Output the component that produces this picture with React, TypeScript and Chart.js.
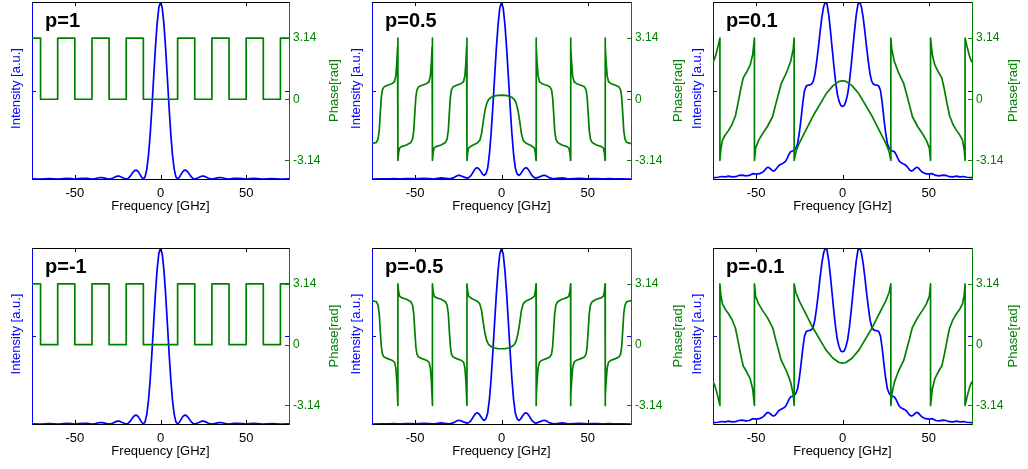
import React, { useEffect, useRef } from 'react';
import { Chart, registerables } from 'chart.js';

Chart.register(...registerables);

// ---------------- data ----------------
const PANEL_LABELS = ['p=1', 'p=0.5', 'p=0.1', 'p=-1', 'p=-0.5', 'p=-0.1'];
const X_TITLE = 'Frequency [GHz]';
const INTENSITY_TITLE = 'Intensity [a.u.]';
const PHASE_TITLE = 'Phase[rad]';
const X_TICKS = [-50, 0, 50];
const X_TICK_LABELS = ['-50', '0', '50'];
const PHASE_TICKS = [-3.14, 0, 3.14];
const PHASE_TICK_LABELS = ['-3.14', '0', '3.14'];
const INTENSITY_TICKS = [0.5];

// intensity spectra, p = ±1 and p = ±0.5 (same frequency grid)
const freqSinc = [
  -75, -70, -65, -62, -60, -58, -55, -52, -50, -48, -45, -42, -40, -38, -36, -35, -34, -32, -30, -28, -26, -25,
  -24, -22, -20, -19, -18, -17, -16, -15, -14, -13, -12, -11, -10, -9, -8, -7, -6, -5, -4, -3, -2, -1,
  0,
  1, 2, 3, 4, 5, 6, 7, 8, 9, 10, 11, 12, 13, 14, 15, 16, 17, 18, 19, 20, 22, 24, 25, 26, 28, 30, 32, 34, 35, 36,
  38, 40, 42, 45, 48, 50, 52, 55, 58, 60, 62, 65, 70, 75,
];
const intensityP1 = [
  0.001, 0, 0.002, 0.001, 0, 0.001, 0.003, 0.002, 0, 0.002, 0.004, 0.003, 0, 0.0024, 0.0071, 0.0083, 0.0079, 0.0034,
  0, 0.0045, 0.0136, 0.0165, 0.016, 0.0072, 0, 0.003, 0.012, 0.025, 0.039, 0.049, 0.05, 0.042, 0.026, 0.009, 0,
  0.012, 0.055, 0.135, 0.255, 0.405, 0.573, 0.737, 0.875, 0.967,
  1,
  0.967, 0.875, 0.737, 0.573, 0.405, 0.255, 0.135, 0.055, 0.012, 0, 0.009, 0.026, 0.042, 0.05, 0.049, 0.039, 0.025,
  0.012, 0.003, 0, 0.0072, 0.016, 0.0165, 0.0136, 0.0045, 0, 0.0034, 0.0079, 0.0083, 0.0071, 0.0024, 0, 0.003,
  0.004, 0.002, 0, 0.002, 0.003, 0.001, 0, 0.001, 0.002, 0, 0.001,
];
const intensityP05 = [
  0, 0.001, 0.001, 0.002, 0.001, 0.001, 0.002, 0.002, 0.001, 0.002, 0.003, 0.002, 0.001, 0.002, 0.005, 0.006, 0.005,
  0.003, 0.001, 0.006, 0.017, 0.021, 0.02, 0.012, 0.005, 0.008, 0.016, 0.03, 0.046, 0.06, 0.064, 0.057, 0.043, 0.028,
  0.02, 0.03, 0.062, 0.14, 0.26, 0.41, 0.575, 0.735, 0.87, 0.965,
  1,
  0.965, 0.87, 0.735, 0.575, 0.41, 0.26, 0.14, 0.062, 0.03, 0.02, 0.028, 0.043, 0.057, 0.064, 0.06, 0.046, 0.03,
  0.016, 0.008, 0.005, 0.012, 0.02, 0.021, 0.017, 0.006, 0.001, 0.003, 0.005, 0.006, 0.005, 0.002, 0.001, 0.002,
  0.003, 0.002, 0.001, 0.002, 0.002, 0.001, 0.001, 0.002, 0.001, 0.001, 0,
];

// intensity spectrum, p = ±0.1
const freqP01Int = [
  -75, -72, -70, -68, -66, -64, -62, -60, -58, -56, -54, -52, -50, -48, -47, -46, -45, -44, -43, -42, -41, -40, -39,
  -38, -37, -36, -35, -34, -33, -32, -31, -30, -29, -28, -27, -26, -25, -24, -23, -22, -21, -20, -19, -18, -17, -16,
  -15, -14, -13, -12, -11, -10, -9, -8, -7, -6, -5, -4, -3, -2, -1,
  0,
  1, 2, 3, 4, 5, 6, 7, 8, 9, 10, 11, 12, 13, 14, 15, 16, 17, 18, 19, 20, 21, 22, 23, 24, 25, 26, 27, 28, 29, 30, 31,
  32, 33, 34, 35, 36, 37, 38, 39, 40, 41, 42, 43, 44, 45, 46, 47, 48, 50, 52, 54, 56, 58, 60, 62, 64, 66, 68, 70, 72,
  75,
];
const intensityP01 = [
  0.008, 0.01, 0.014, 0.012, 0.016, 0.012, 0.013, 0.02, 0.022, 0.018, 0.02, 0.03, 0.028, 0.03, 0.035, 0.04, 0.05,
  0.062, 0.066, 0.06, 0.05, 0.045, 0.05, 0.062, 0.075, 0.082, 0.086, 0.092, 0.1, 0.118, 0.14, 0.155, 0.158, 0.162,
  0.175, 0.2, 0.26, 0.34, 0.43, 0.5, 0.525, 0.53, 0.532, 0.535, 0.55, 0.59, 0.66, 0.74, 0.83, 0.91, 0.97, 1.0, 0.99,
  0.93, 0.84, 0.74, 0.64, 0.55, 0.48, 0.44, 0.415,
  0.41,
  0.415, 0.44, 0.48, 0.55, 0.64, 0.74, 0.84, 0.93, 0.99, 1.0, 0.97, 0.91, 0.83, 0.74, 0.66, 0.59, 0.55, 0.535, 0.532,
  0.53, 0.525, 0.5, 0.43, 0.34, 0.26, 0.2, 0.175, 0.162, 0.158, 0.155, 0.14, 0.118, 0.1, 0.092, 0.086, 0.082, 0.075,
  0.062, 0.05, 0.045, 0.05, 0.06, 0.066, 0.062, 0.05, 0.04, 0.035, 0.03, 0.028, 0.03, 0.02, 0.018, 0.022, 0.02,
  0.013, 0.012, 0.016, 0.012, 0.014, 0.01, 0.008,
];

// phase, p = ±1 (square wave)
const freqSquare = [
  -75, -70, -70, -60, -60, -50, -50, -40, -40, -30, -30, -20, -20, -10, -10, 10, 10, 20, 20, 30, 30, 40, 40, 50, 50,
  60, 60, 70, 70, 75,
];
const phaseSquare = [
  3.14, 3.14, 0, 0, 3.14, 3.14, 0, 0, 3.14, 3.14, 0, 0, 3.14, 3.14, 0, 0, 3.14, 3.14, 0, 0, 3.14, 3.14, 0, 0, 3.14,
  3.14, 0, 0, 3.14, 3.14,
];

// phase, p = ±0.5
const freqPhaseP05 = [
  -75, -72.5, -71.5, -70.8, -70.2, -69.6, -69, -68, -66, -63.5, -62, -61.2, -60.6, -60.2, -60,
  -60, -59.6, -59, -57.5, -55, -52.5, -51.5, -50.8, -50.2, -49.6, -49, -48, -46, -43.5, -42, -41.2, -40.6, -40.2, -40,
  -40, -39.6, -39, -37.5, -35, -32.5, -31.5, -30.8, -30.2, -29.6, -29, -28, -26, -23.5, -22, -21.2, -20.6, -20.2, -20,
  -20, -19.6, -19, -17, -14, -12.5, -11.5, -10.5, -9.5, -8.5, -7.5, -6, -4, -2,
  0,
  2, 4, 6, 7.5, 8.5, 9.5, 10.5, 11.5, 12.5, 14, 17, 19, 19.6, 20,
  20, 20.2, 20.6, 21.2, 22, 23.5, 26, 28, 29, 29.6, 30.2, 30.8, 31.5, 32.5, 35, 37.5, 39, 39.6, 40,
  40, 40.2, 40.6, 41.2, 42, 43.5, 46, 48, 49, 49.6, 50.2, 50.8, 51.5, 52.5, 55, 57.5, 59, 59.6, 60,
  60, 60.2, 60.6, 61.2, 62, 63.5, 66, 68, 69, 69.6, 70.2, 70.8, 71.5, 72.5, 75,
];
const phaseP05 = [
  -2.28, -2.22, -2.05, -1.6, -0.7, 0.1, 0.48, 0.64, 0.72, 0.8, 0.9, 1.2, 1.9, 2.7, 3.14,
  -3.14, -2.75, -2.5, -2.42, -2.35, -2.22, -2.05, -1.6, -0.7, 0.1, 0.48, 0.64, 0.72, 0.8, 0.9, 1.2, 1.9, 2.7, 3.14,
  -3.14, -2.75, -2.5, -2.42, -2.35, -2.22, -2.05, -1.6, -0.7, 0.1, 0.48, 0.64, 0.72, 0.8, 0.9, 1.2, 1.9, 2.7, 3.14,
  -3.14, -2.75, -2.5, -2.38, -2.25, -2.1, -1.75, -1.1, -0.55, -0.2, -0.02, 0.1, 0.17, 0.2,
  0.21,
  0.2, 0.17, 0.1, -0.02, -0.2, -0.55, -1.1, -1.75, -2.1, -2.25, -2.38, -2.5, -2.75, -3.14,
  3.14, 2.7, 1.9, 1.2, 0.9, 0.8, 0.72, 0.64, 0.48, 0.1, -0.7, -1.6, -2.05, -2.22, -2.35, -2.42, -2.5, -2.75, -3.14,
  3.14, 2.7, 1.9, 1.2, 0.9, 0.8, 0.72, 0.64, 0.48, 0.1, -0.7, -1.6, -2.05, -2.22, -2.35, -2.42, -2.5, -2.75, -3.14,
  3.14, 2.7, 1.9, 1.2, 0.9, 0.8, 0.72, 0.64, 0.48, 0.1, -0.7, -1.6, -2.05, -2.22, -2.28,
];
const phaseM05 = [
  2.28, 2.22, 2.05, 1.6, 0.7, -0.1, -0.48, -0.64, -0.72, -0.8, -0.9, -1.2, -1.9, -2.7, -3.14,
  3.14, 2.75, 2.5, 2.42, 2.35, 2.22, 2.05, 1.6, 0.7, -0.1, -0.48, -0.64, -0.72, -0.8, -0.9, -1.2, -1.9, -2.7, -3.14,
  3.14, 2.75, 2.5, 2.42, 2.35, 2.22, 2.05, 1.6, 0.7, -0.1, -0.48, -0.64, -0.72, -0.8, -0.9, -1.2, -1.9, -2.7, -3.14,
  3.14, 2.75, 2.5, 2.38, 2.25, 2.1, 1.75, 1.1, 0.55, 0.2, 0.02, -0.1, -0.17, -0.2,
  -0.21,
  -0.2, -0.17, -0.1, 0.02, 0.2, 0.55, 1.1, 1.75, 2.1, 2.25, 2.38, 2.5, 2.75, 3.14,
  -3.14, -2.7, -1.9, -1.2, -0.9, -0.8, -0.72, -0.64, -0.48, -0.1, 0.7, 1.6, 2.05, 2.22, 2.35, 2.42, 2.5, 2.75, 3.14,
  -3.14, -2.7, -1.9, -1.2, -0.9, -0.8, -0.72, -0.64, -0.48, -0.1, 0.7, 1.6, 2.05, 2.22, 2.35, 2.42, 2.5, 2.75, 3.14,
  -3.14, -2.7, -1.9, -1.2, -0.9, -0.8, -0.72, -0.64, -0.48, -0.1, 0.7, 1.6, 2.05, 2.22, 2.28,
];

// phase, p = ±0.1
const freqPhaseP01 = [
  -75, -74, -73, -72, -71,
  -71, -70.5, -69.5, -68, -66, -64, -62, -60.5, -59, -57.5, -55.5, -53.5, -52, -51,
  -51, -50.3, -48.5, -46.5, -43.5, -40.5, -38.5, -37, -35.5, -32.5, -30, -28.5, -28,
  -28, -27, -25, -21, -17, -13, -9.5, -5.5, -2,
  0,
  2, 5.5, 9.5, 13, 17, 21, 25, 27, 28,
  28, 28.5, 30, 32.5, 35.5, 37, 38.5, 40.5, 43.5, 46.5, 48.5, 50.3, 51,
  51, 52, 53.5, 55.5, 57.5, 59, 60.5, 62, 64, 66, 68, 69.5, 70.5, 71,
  71, 72, 73, 74, 75,
];
const phaseP01 = [
  1.9, 2.1, 2.4, 2.75, 3.14,
  -3.14, -2.6, -2.1, -1.85, -1.6, -1.3, -0.85, -0.2, 0.5, 1.1, 1.4, 1.75, 2.3, 3.14,
  -3.14, -2.5, -2.1, -1.8, -1.4, -0.9, -0.2, 0.3, 0.8, 1.35, 1.95, 2.6, 3.14,
  -3.14, -2.7, -2.25, -1.55, -0.85, -0.25, 0.28, 0.7, 0.92,
  0.95,
  0.92, 0.7, 0.28, -0.25, -0.85, -1.55, -2.25, -2.7, -3.14,
  3.14, 2.6, 1.95, 1.35, 0.8, 0.3, -0.2, -0.9, -1.4, -1.8, -2.1, -2.5, -3.14,
  3.14, 2.3, 1.75, 1.4, 1.1, 0.5, -0.2, -0.85, -1.3, -1.6, -1.85, -2.1, -2.6, -3.14,
  3.14, 2.75, 2.4, 2.1, 1.9,
];
const phaseM01 = [
  -1.9, -2.1, -2.4, -2.75, -3.14,
  3.14, 2.6, 2.1, 1.85, 1.6, 1.3, 0.85, 0.2, -0.5, -1.1, -1.4, -1.75, -2.3, -3.14,
  3.14, 2.5, 2.1, 1.8, 1.4, 0.9, 0.2, -0.3, -0.8, -1.35, -1.95, -2.6, -3.14,
  3.14, 2.7, 2.25, 1.55, 0.85, 0.25, -0.28, -0.7, -0.92,
  -0.95,
  -0.92, -0.7, -0.28, 0.25, 0.85, 1.55, 2.25, 2.7, 3.14,
  -3.14, -2.6, -1.95, -1.35, -0.8, -0.3, 0.2, 0.9, 1.4, 1.8, 2.1, 2.5, 3.14,
  -3.14, -2.3, -1.75, -1.4, -1.1, -0.5, 0.2, 0.85, 1.3, 1.6, 1.85, 2.1, 2.6, 3.14,
  -3.14, -2.75, -2.4, -2.1, -1.9,
];

// ---------------- styles / layout ----------------
const BLUE = '#0000ff';
const GREEN = '#008000';
const BLACK = '#000000';
const FONT = "'Liberation Sans', Arial, sans-serif";
const X_RANGE = [-75, 75];
const INT_RANGE = [0, 1];
const PHASE_RANGE = [-4.1, 5.0];

const PANELS = [
  { label: PANEL_LABELS[0], freqI: freqSinc, intensity: intensityP1, freqP: freqSquare, phase: phaseSquare,
    left: 0, top: 0, width: 345, height: 232, area: { l: 32, r: 289, t: 2, b: 179 }, phaseGap: 45 },
  { label: PANEL_LABELS[1], freqI: freqSinc, intensity: intensityP05, freqP: freqPhaseP05, phase: phaseP05,
    left: 345, top: 0, width: 345, height: 232, area: { l: 372, r: 631, t: 2, b: 179 }, phaseGap: 47 },
  { label: PANEL_LABELS[2], freqI: freqP01Int, intensity: intensityP01, freqP: freqPhaseP01, phase: phaseP01,
    left: 690, top: 0, width: 338, height: 232, area: { l: 713, r: 972, t: 2, b: 179 }, phaseGap: 41 },
  { label: PANEL_LABELS[3], freqI: freqSinc, intensity: intensityP1, freqP: freqSquare, phase: phaseSquare,
    left: 0, top: 232, width: 345, height: 237, area: { l: 32, r: 289, t: 248, b: 424 }, phaseGap: 45 },
  { label: PANEL_LABELS[4], freqI: freqSinc, intensity: intensityP05, freqP: freqPhaseP05, phase: phaseM05,
    left: 345, top: 232, width: 345, height: 237, area: { l: 372, r: 631, t: 248, b: 424 }, phaseGap: 47 },
  { label: PANEL_LABELS[5], freqI: freqP01Int, intensity: intensityP01, freqP: freqPhaseP01, phase: phaseM01,
    left: 690, top: 232, width: 338, height: 237, area: { l: 713, r: 972, t: 248, b: 424 }, phaseGap: 41 },
];

const decorPlugin = {
  id: 'decor',
  afterDraw(chart: any, _args: any, opts: any) {
    const { ctx, chartArea: a, scales } = chart;
    const xs = scales.x;
    const yi = scales.yI;
    const yp = scales.yP;
    const TL = 4;
    const line = (x1: number, y1: number, x2: number, y2: number) => {
      ctx.beginPath();
      ctx.moveTo(x1, y1);
      ctx.lineTo(x2, y2);
      ctx.stroke();
    };
    ctx.save();
    ctx.lineWidth = 1;
    ctx.strokeStyle = BLACK;
    line(a.left, Math.round(a.top) + 0.5, a.right, Math.round(a.top) + 0.5);
    X_TICKS.forEach((v) => {
      const px = Math.round(xs.getPixelForValue(v)) + 0.5;
      line(px, a.bottom, px, a.bottom - TL);
      line(px, a.top, px, a.top + TL);
    });
    ctx.strokeStyle = BLUE;
    INTENSITY_TICKS.forEach((v) => {
      const py = Math.round(yi.getPixelForValue(v)) + 0.5;
      line(a.left, py, a.left + TL, py);
      line(a.right, py, a.right - TL, py);
    });
    ctx.strokeStyle = GREEN;
    PHASE_TICKS.forEach((v) => {
      const py = Math.round(yp.getPixelForValue(v)) + 0.5;
      line(a.right, py, a.right - TL, py);
    });

    const midY = (a.top + a.bottom) / 2;
    ctx.font = `13px ${FONT}`;
    ctx.textAlign = 'center';
    ctx.textBaseline = 'middle';
    ctx.save();
    ctx.translate(a.left - 15.5, midY - 2);
    ctx.rotate(-Math.PI / 2);
    ctx.fillStyle = BLUE;
    ctx.fillText(INTENSITY_TITLE, 0, 0);
    ctx.restore();
    ctx.save();
    ctx.translate(a.right + opts.phaseGap, midY);
    ctx.rotate(-Math.PI / 2);
    ctx.fillStyle = GREEN;
    ctx.fillText(PHASE_TITLE, 0, 0);
    ctx.restore();

    ctx.font = `bold 20px ${FONT}`;
    ctx.textAlign = 'left';
    ctx.textBaseline = 'alphabetic';
    ctx.fillStyle = BLACK;
    ctx.fillText(opts.label, a.left + 13, a.top + 25);
    ctx.restore();
  },
};

function Panel({ cfg }: { cfg: any }) {
  const ref = useRef<HTMLCanvasElement | null>(null);
  useEffect(() => {
    const canvas = ref.current;
    if (!canvas) return;
    const leftW = cfg.area.l - cfg.left;
    const rightW = cfg.left + cfg.width - cfg.area.r;
    const topPad = cfg.area.t - cfg.top;
    const xAxisH = cfg.top + cfg.height - cfg.area.b;
    const titleLH = 13 * 1.2;
    const titleBottomPad = xAxisH - 27.3 - titleLH / 2;
    const intensityPts = cfg.freqI.map((f: number, i: number) => ({ x: f, y: cfg.intensity[i] }));
    const phasePts = cfg.freqP.map((f: number, i: number) => ({ x: f, y: cfg.phase[i] }));
    const chart = new Chart(canvas, {
      type: 'line',
      data: {
        datasets: [
          {
            label: 'phase',
            data: phasePts,
            yAxisID: 'yP',
            borderColor: GREEN,
            borderWidth: 1.7,
            pointRadius: 0,
            tension: 0,
            fill: false,
            borderJoinStyle: 'round',
          },
          {
            label: 'intensity',
            data: intensityPts,
            yAxisID: 'yI',
            borderColor: BLUE,
            borderWidth: 1.7,
            pointRadius: 0,
            tension: 0,
            fill: false,
            borderJoinStyle: 'round',
          },
        ],
      },
      options: {
        responsive: false,
        animation: false,
        devicePixelRatio: 1,
        events: [],
        layout: { padding: { top: topPad, left: 0, right: 0, bottom: 0 } },
        plugins: {
          legend: { display: false },
          tooltip: { enabled: false },
          decor: { label: cfg.label, phaseGap: cfg.phaseGap },
        } as any,
        scales: {
          x: {
            type: 'linear',
            position: 'bottom',
            min: X_RANGE[0],
            max: X_RANGE[1],
            afterBuildTicks: (s: any) => {
              s.ticks = X_TICKS.map((v) => ({ value: v }));
            },
            afterFit: (s: any) => {
              s.height = xAxisH;
              s.paddingLeft = 0;
              s.paddingRight = 0;
            },
            grid: { display: false, drawTicks: false },
            border: { display: true, color: BLACK, width: 1 },
            ticks: {
              autoSkip: false,
              maxRotation: 0,
              padding: 7,
              color: BLACK,
              font: { family: FONT, size: 13 },
              callback: (_v: any, i: number) => X_TICK_LABELS[i],
            },
            title: {
              display: true,
              text: X_TITLE,
              color: BLACK,
              font: { family: FONT, size: 13 },
              padding: { top: 0, bottom: titleBottomPad },
            },
          },
          yI: {
            type: 'linear',
            position: 'left',
            min: INT_RANGE[0],
            max: INT_RANGE[1],
            afterFit: (s: any) => {
              s.width = leftW;
              s.paddingTop = 0;
              s.paddingBottom = 0;
            },
            grid: { display: false, drawTicks: false },
            border: { display: true, color: BLUE, width: 1 },
            ticks: { display: false },
          },
          yP: {
            type: 'linear',
            position: 'right',
            min: PHASE_RANGE[0],
            max: PHASE_RANGE[1],
            afterBuildTicks: (s: any) => {
              s.ticks = PHASE_TICKS.map((v) => ({ value: v }));
            },
            afterFit: (s: any) => {
              s.width = rightW;
              s.paddingTop = 0;
              s.paddingBottom = 0;
            },
            grid: { display: false, drawTicks: false },
            border: { display: true, color: GREEN, width: 1 },
            ticks: {
              padding: 4,
              color: GREEN,
              font: { family: FONT, size: 12 },
              callback: (_v: any, i: number) => PHASE_TICK_LABELS[i],
            },
          },
        },
      } as any,
      plugins: [decorPlugin],
    });
    return () => chart.destroy();
  }, [cfg]);
  return (
    <canvas
      ref={ref}
      width={cfg.width}
      height={cfg.height}
      style={{ position: 'absolute', left: cfg.left, top: cfg.top, width: cfg.width, height: cfg.height }}
    />
  );
}

export default function App() {
  return (
    <div
      style={{
        position: 'fixed',
        left: 0,
        top: 0,
        width: 1028,
        height: 469,
        background: '#ffffff',
        overflow: 'hidden',
      }}
    >
      {PANELS.map((p, i) => (
        <Panel key={i} cfg={p} />
      ))}
    </div>
  );
}
